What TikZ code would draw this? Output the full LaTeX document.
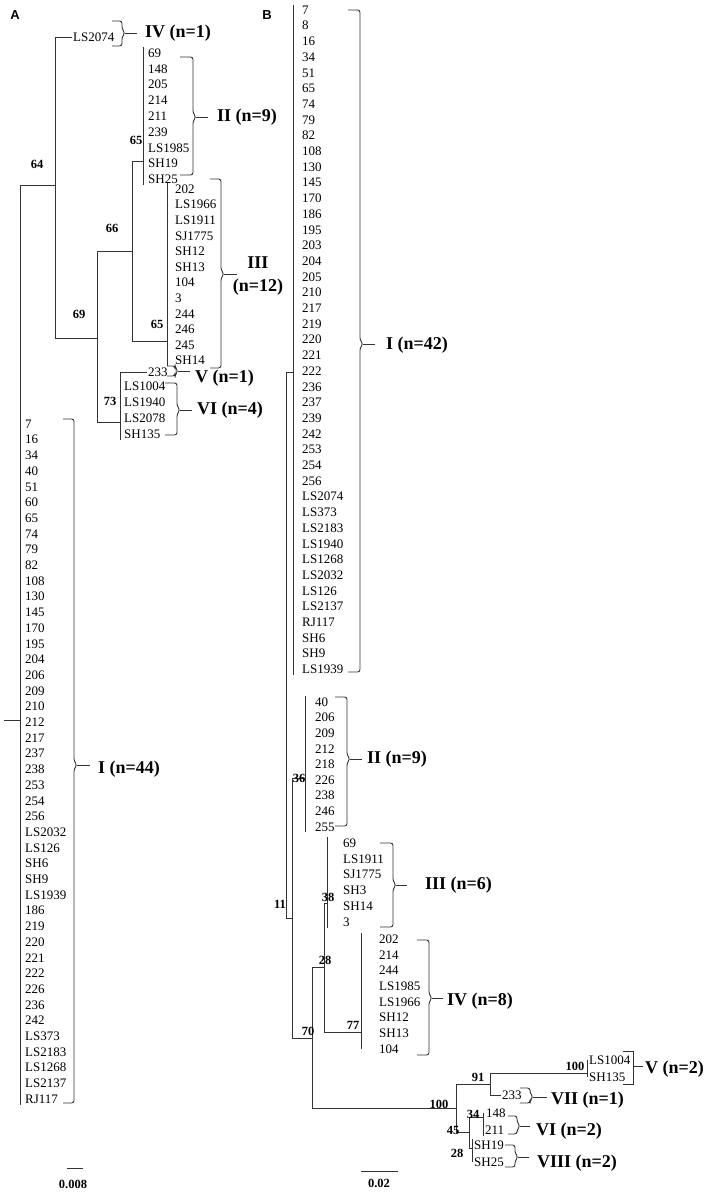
\documentclass[tikz,border=0pt]{standalone}
\usepackage{fontspec}
\setmainfont{Liberation Serif}
\setsansfont{Liberation Sans}
\usetikzlibrary{calc}
\tikzstyle{taxon}=[anchor=west, inner sep=1pt, font=\fontsize{13}{15}\selectfont]
\tikzstyle{boot}=[inner sep=0pt, font=\bfseries\fontsize{12.5}{14}\selectfont]
\tikzstyle{grp}=[anchor=west, inner sep=0pt, font=\bfseries\fontsize{18}{23}\selectfont]
\tikzstyle{panel}=[inner sep=0pt, font=\sffamily\bfseries\fontsize{13}{15}\selectfont]
\tikzstyle{branch}=[line width=0.9pt, color=black!80]
\tikzstyle{brk}=[line width=0.9pt, color=black!80, rounded corners=2.5pt]
\newcommand{\grpbrace}[6]{%
	\draw[brk] (#1,#3) -- (#2,#3) -- (#2,{#5-4}) -- ({#2+3},#5) -- (#2,{#5+4}) -- (#2,#4) -- (#1,#4);
	\draw[branch] ({#2+3},#5) -- (#6,#5);}

\begin{document}
\begin{tikzpicture}[x=1pt, y=-1pt]
	\useasboundingbox (0,0) rectangle (706,1194);
	\node[panel] (pA) at (15,15) {A};
	\node[panel] (pB) at (267,15) {B};

	\foreach \t [count=\i] in {7,16,34,40,51,60,65,74,79,82,108,130,145,170,195,204,206,209,210,212,217,237,238,253,254,256,LS2032,LS126,SH6,SH9,LS1939,186,219,220,221,222,226,236,242,LS373,LS2183,LS1268,LS2137,RJ117}
		\node[taxon] (aI\i) at (24,{424+15.7*(\i-1)}) {\t};
	\foreach \t [count=\i] in {69,148,205,214,211,239,LS1985,SH19,SH25}
		\node[taxon] (aII\i) at (147,{53+15.8*(\i-1)}) {\t};
	\foreach \t [count=\i] in {202,LS1966,LS1911,SJ1775,SH12,SH13,104,3,244,246,245,SH14}
		\node[taxon] (aIII\i) at (174,{189+15.6*(\i-1)}) {\t};
	\foreach \t [count=\i] in {LS1004,LS1940,LS2078,SH135}
		\node[taxon] (aVI\i) at (123,{386+16*(\i-1)}) {\t};
	\node[taxon] (aLS2074) at (72,37) {LS2074};
	\node[taxon] (a233) at (147,372) {233};

	\coordinate (astem) at (4,720);
	\coordinate (aroot) at (20,720);
	\coordinate (a64) at (55,185);
	\coordinate (a69) at (97,338);
	\coordinate (a66) at (132,251);
	\coordinate (a65) at (143,161);
	\coordinate (a65b) at (167,341);
	\coordinate (a73) at (120,422);

	\draw[branch] (astem) -- (aroot);
	\draw[branch] (a64) -| (aroot);
	\draw[branch] (aroot) -- (aroot |- aI44.south);
	\draw[branch] (aLS2074.west) -| (a64);
	\draw[branch] (a69) -| (a64);
	\draw[branch] (a66) -| (a69);
	\draw[branch] (a73) -| (a69);
	\draw[branch] (a65) -| (a66);
	\draw[branch] (a65b) -| (a66);
	\draw[branch] (a65 |- aII1.north) -- (a65 |- aII9.south);
	\draw[branch] (a65b |- aIII1.north) -- (a65b |- aIII12.south);
	\draw[branch] (a233.west) -| (a73);
	\draw[branch] (a73) -- (a73 |- aVI4.south);

	\node[boot] (ba64) at (37,164) {64};
	\node[boot] (ba65) at (136,140) {65};
	\node[boot] (ba66) at (112,228) {66};
	\node[boot] (ba65b) at (157,324) {65};
	\node[boot] (ba69) at (79,314) {69};
	\node[boot] (ba73) at (110,401) {73};

	\grpbrace{112}{122}{21}{46}{33}{137}
	\grpbrace{180}{193}{57}{175}{117}{208}
	\grpbrace{210}{221}{179}{368}{274}{237}
	\grpbrace{167}{175}{366}{376}{371}{190}
	\grpbrace{165}{177}{383}{435}{410}{192}
	\grpbrace{63}{74}{419}{1103}{765}{90}
	\node[grp] (laIV) at (145,33) {IV (n=1)};
	\node[grp] (laII) at (217,117) {II (n=9)};
	\node[grp, anchor=center, align=center] (laIII) at (258,276) {III\\(n=12)};
	\node[grp] (laV) at (195,378) {V (n=1)};
	\node[grp] (laVI) at (197,410) {VI (n=4)};
	\node[grp] (laI) at (98,769) {I (n=44)};

	\draw[branch] (67,1168) -- (83,1168);
	\node[boot] (asc) at (73,1184) {0.008};

	\foreach \t [count=\i] in {7,8,16,34,51,65,74,79,82,108,130,145,170,186,195,203,204,205,210,217,219,220,221,222,236,237,239,242,253,254,256,LS2074,LS373,LS2183,LS1940,LS1268,LS2032,LS126,LS2137,RJ117,SH6,SH9,LS1939}
		\node[taxon] (bI\i) at (301,{10+15.7*(\i-1)}) {\t};
	\foreach \t [count=\i] in {40,206,209,212,218,226,238,246,255}
		\node[taxon] (bII\i) at (314,{702+15.6*(\i-1)}) {\t};
	\foreach \t [count=\i] in {69,LS1911,SJ1775,SH3,SH14,3}
		\node[taxon] (bIII\i) at (342,{843+15.8*(\i-1)}) {\t};
	\foreach \t [count=\i] in {202,214,244,LS1985,LS1966,SH12,SH13,104}
		\node[taxon] (bIV\i) at (378,{939+15.7*(\i-1)}) {\t};
	\node[taxon] (bLS1004) at (588,1060) {LS1004};
	\node[taxon] (bSH135) at (588,1077) {SH135};
	\node[taxon] (b233) at (501,1095) {233};
	\node[taxon] (b148) at (485,1113) {148};
	\node[taxon] (b211) at (484,1130) {211};
	\node[taxon] (bSH19) at (473,1145) {SH19};
	\node[taxon] (bSH25) at (473,1162) {SH25};

	\coordinate (b11) at (286,645);
	\coordinate (bIroot) at (293,372);
	\coordinate (bX) at (292,918);
	\coordinate (b36) at (305,778);
	\coordinate (b70) at (312,1038);
	\coordinate (b28) at (324,967);
	\coordinate (b38) at (327,903);
	\coordinate (b77) at (361,1032);
	\coordinate (b100) at (456,1108);
	\coordinate (b91) at (490,1084);
	\coordinate (b45) at (469,1132);
	\coordinate (b100v) at (587,1073);
	\coordinate (b34) at (483,1117);
	\coordinate (b28c) at (472,1148);

	\draw[branch] (bIroot) -| (b11);
	\draw[branch] (bX) -| (b11);
	\draw[branch] (bIroot |- bI1.north) -- (bIroot |- bI43.south);
	\draw[branch] (b36) -| (bX);
	\draw[branch] (b70) -| (bX);
	\draw[branch] (b36 |- bII1.north) -- (b36 |- bII9.south);
	\draw[branch] (b28) -| (b70);
	\draw[branch] (b100) -| (b70);
	\draw[branch] (b38) -| (b28);
	\draw[branch] (b77) -| (b28);
	\draw[branch] (b38 |- bIII1.north) -- (b38 |- bIII6.south);
	\draw[branch] (b77 |- bIV1.north) -- (b77 |- bIV8.center);
	\draw[branch] (b91) -| (b100);
	\draw[branch] (b45) -| (b100);
	\draw[branch] (b100v) -| (b91);
	\draw[branch] (b233.west) -| (b91);
	\draw[branch] (b100v |- bLS1004.center) -- (b100v |- bSH135.center);
	\draw[branch] (b34) -| (b45);
	\draw[branch] (b28c) -| (b45);
	\draw[branch] (b34 |- b148.center) -- (b34 |- b211.south);
	\draw[branch] (b211.west) -- (b34 |- b211.west);
	\draw[branch] (b28c |- bSH19.north) -- (b28c |- bSH25.center);

	\node[boot] (bb36) at (299,778) {36};
	\node[boot] (bb11) at (280,904) {11};
	\node[boot] (bb38) at (328,897) {38};
	\node[boot] (bb28) at (325,960) {28};
	\node[boot] (bb77) at (353,1025) {77};
	\node[boot] (bb70) at (308,1031) {70};
	\node[boot] (bb100) at (439,1104) {100};
	\node[boot] (bb91) at (478,1077) {91};
	\node[boot] (bb34) at (473,1114) {34};
	\node[boot] (bb45) at (453,1130) {45};
	\node[boot] (bb28c) at (457,1153) {28};
	\node[boot] (bb100v) at (575,1066) {100};

	\grpbrace{348}{360}{10}{672}{344}{375}
	\grpbrace{335}{347}{697}{826}{759}{362}
	\grpbrace{380}{393}{843}{927}{885}{407}
	\grpbrace{417}{429}{940}{1055}{998}{443}
	\grpbrace{520}{530}{1088}{1103}{1097}{547}
	\grpbrace{508}{517}{1116}{1134}{1126}{530}
	\grpbrace{505}{515}{1145}{1167}{1157}{529}
	\draw[branch] (623,1051) -- (633,1051) -- (633,1084) -- (623,1084);
	\draw[branch] (633,1066) -- (643,1066);
	\node[grp] (lbI) at (386,345) {I (n=42)};
	\node[grp] (lbII) at (367,759) {II (n=9)};
	\node[grp] (lbIII) at (425,885) {III (n=6)};
	\node[grp] (lbIV) at (447,1001) {IV (n=8)};
	\node[grp] (lbV) at (645,1069) {V (n=2)};
	\node[grp] (lbVII) at (551,1100) {VII (n=1)};
	\node[grp] (lbVI) at (536,1131) {VI (n=2)};
	\node[grp] (lbVIII) at (537,1163) {VIII (n=2)};

	\draw[branch] (361,1171) -- (398,1171);
	\node[boot] (bsc) at (379,1183) {0.02};
\end{tikzpicture}
\end{document}
